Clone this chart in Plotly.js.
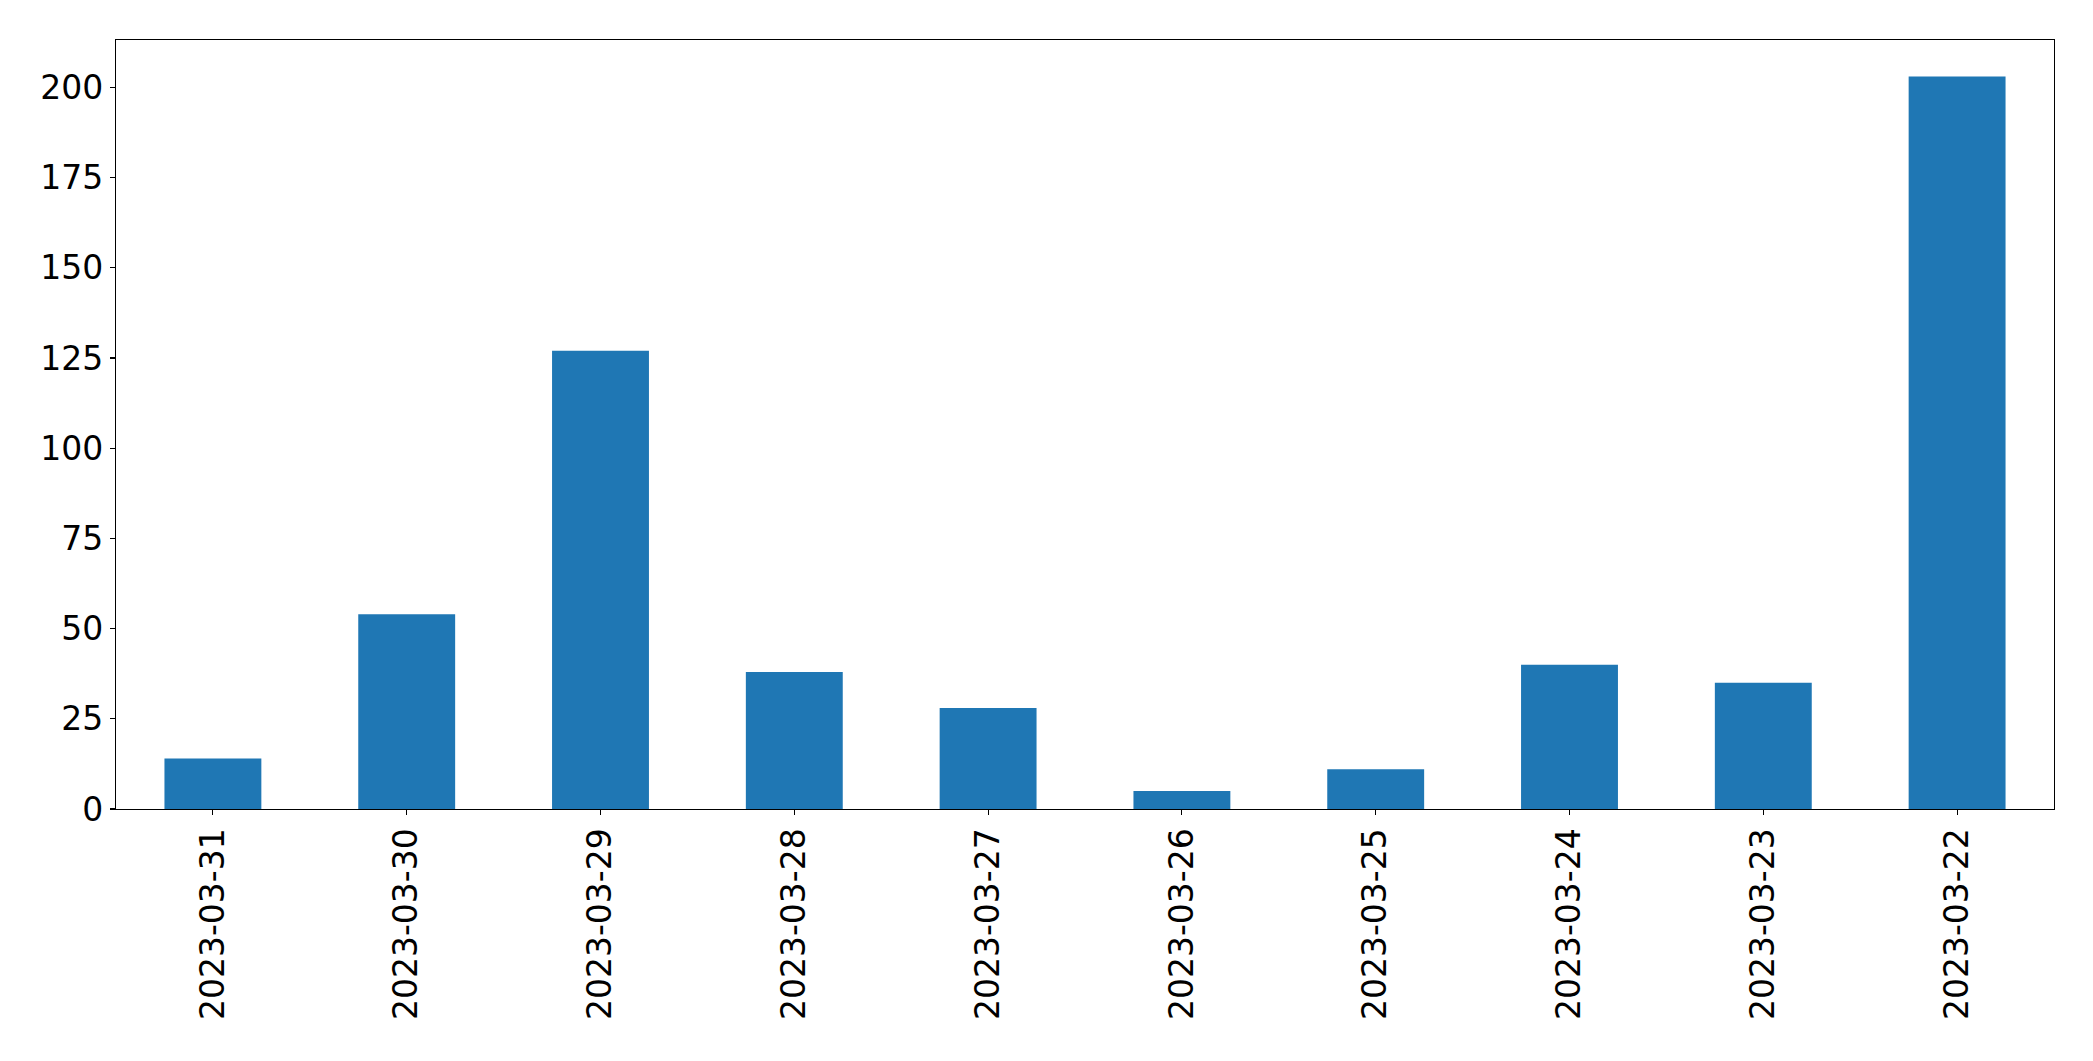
<!DOCTYPE html>
<html>
<head>
<meta charset="utf-8">
<script src="https://cdn.plot.ly/plotly-3.0.1.min.js"></script>
<style>html,body{margin:0;padding:0;background:#fff;}#chart{width:2093px;height:1061px;}</style>
</head>
<body>
<div id="chart"></div>
<script>
const dates = ["2023-03-31","2023-03-30","2023-03-29","2023-03-28","2023-03-27","2023-03-26","2023-03-25","2023-03-24","2023-03-23","2023-03-22"];
const counts = [14, 54, 127, 38, 28, 5, 11, 40, 35, 203];
const yTicks = [0, 25, 50, 75, 100, 125, 150, 175, 200];

const trace = {
  type: "bar",
  x: dates,
  y: counts,
  width: 0.5,
  marker: {color: "#1f77b4", line: {width: 0}},
  hoverinfo: "x+y"
};

const maxVal = Math.max.apply(null, counts);
const layout = {
  width: 2093,
  height: 1061,
  margin: {l: 116, r: 39, t: 40, b: 252, pad: 0},
  paper_bgcolor: "#fff",
  plot_bgcolor: "#fff",
  font: {family: "DejaVu Sans", size: 33, color: "#000"},
  showlegend: false,
  bargap: 0.5,
  xaxis: {
    type: "category",
    range: [-0.5, dates.length - 0.5],
    tickangle: -90,
    ticks: "outside",
    ticklen: 5,
    tickwidth: 1.1,
    tickcolor: "#000",
    showline: true,
    linecolor: "#000",
    linewidth: 1.1,
    mirror: true,
    showgrid: false,
    zeroline: false,
    tickfont: {family: "DejaVu Sans", size: 33, color: "#000"}
  },
  yaxis: {
    range: [0, maxVal * 1.05],
    tickmode: "array",
    tickvals: yTicks,
    ticktext: yTicks.map(String),
    ticks: "outside",
    ticklen: 5,
    tickwidth: 1.1,
    tickcolor: "#000",
    showline: true,
    linecolor: "#000",
    linewidth: 1.1,
    mirror: true,
    showgrid: false,
    zeroline: false,
    tickfont: {family: "DejaVu Sans", size: 33, color: "#000"}
  }
};

Plotly.newPlot("chart", [trace], layout, {displayModeBar: false, staticPlot: true});
</script>
</body>
</html>
